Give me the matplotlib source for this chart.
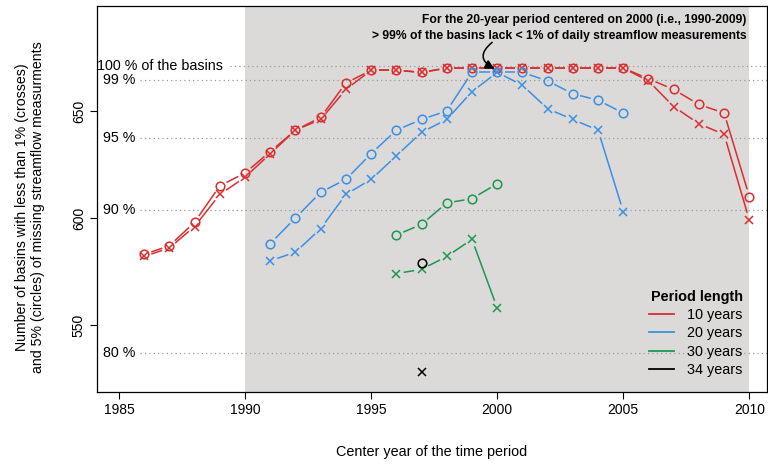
import numpy as np
import matplotlib
matplotlib.use("Agg")
import matplotlib.pyplot as plt
from matplotlib.lines import Line2D

plt.rcParams['font.family'] = ['Liberation Sans', 'DejaVu Sans']

n_basins = 671

years10 = list(range(1986, 2011))
circ10 = [583, 587, 598, 615, 621, 631, 641, 647, 663, 669, 669, 668, 670,
          670, 670, 670, 670, 670, 670, 670, 665, 660, 653, 649, 610]
cross10 = [582, 586, 596, 611, 619, 630, 641, 646, 660, 669, 669, 668, 670,
           670, 670, 670, 670, 670, 670, 670, 664, 652, 644, 639, 599]

years20 = list(range(1991, 2006))
circ20 = [588, 600, 612, 618, 630, 641, 646, 650, 668, 668, 668, 664, 658, 655, 649]
cross20 = [580, 584, 595, 611, 618, 629, 640, 646, 659, 668, 662, 651, 646, 641, 603]

years30 = list(range(1996, 2001))
circ30 = [592, 597, 607, 609, 616]
cross30 = [574, 576, 582, 590, 558]

years34 = [1997]
circ34 = [579]
cross34 = [528]

pct_levels = [100, 99, 95, 90, 80]
pct_labels = ['100 % of the basins', '99 %', '95 %', '90 %', '80 %']

red = '#D92E2E'
blue = '#3990E6'
green = '#1A9850'
shade = '#DCD9D9'

fig = plt.figure(figsize=(7.68, 4.66), dpi=100)
ax = fig.add_axes([97 / 768, 1 - 392 / 466, 670 / 768, 386 / 466])
ax.set_xlim(1984.13, 2010.7)
ax.set_ylim(518.7, 699)

ax.axvspan(1990, 2010, color=shade, zorder=0, lw=0)

# percentage guide lines with their labels
for p, lab in zip(pct_levels, pct_labels):
    yv = p / 100 * n_basins
    if p == 100:
        ax.text(1984.12, yv, lab, ha='left', va='center', fontsize=10.3)
        x0 = 1989.4
    else:
        ax.text(1985.0, yv, lab, ha='center', va='center', fontsize=10.3)
        x0 = 1985.85
    ax.plot([x0, 2010.7], [yv, yv], color='#9a9a9a', lw=0.9,
            linestyle=(0, (1, 2.5)), zorder=1)


def gapped(xs, ys, color, marker, ms):
    # R type="b": segments stop short of every point
    gap = 7.5
    pts = ax.transData.transform(np.column_stack([xs, ys]))
    inv = ax.transData.inverted()
    for p0, p1 in zip(pts[:-1], pts[1:]):
        d = p1 - p0
        L = np.hypot(d[0], d[1])
        if L <= 2 * gap:
            continue
        u = d / L
        a = inv.transform(p0 + u * gap)
        b = inv.transform(p1 - u * gap)
        ax.plot([a[0], b[0]], [a[1], b[1]], color=color, lw=1.1,
                solid_capstyle='butt', zorder=2)
    if marker == 'o':
        ax.plot(xs, ys, 'o', mfc='none', mec=color, ms=ms, mew=1.1, zorder=3)
    else:
        ax.plot(xs, ys, 'x', color=color, ms=ms, mew=1.1, zorder=3)


for yrs, c, x, col in [(years10, circ10, cross10, red),
                       (years20, circ20, cross20, blue),
                       (years30, circ30, cross30, green),
                       (years34, circ34, cross34, 'black')]:
    gapped(yrs, c, col, 'o', 6.2)
    gapped(yrs, x, col, 'x', 5.8)

ax.text(2009.9, 692.5, 'For the 20-year period centered on 2000 (i.e., 1990-2009)',
        ha='right', va='center', fontsize=8.75, fontweight='bold')
ax.text(2009.9, 685.0, '> 99% of the basins lack < 1% of daily streamflow measurements',
        ha='right', va='center', fontsize=8.75, fontweight='bold')
ax.annotate('', xy=(1999.9, 669.6), xytext=(1999.8, 682.0),
            arrowprops=dict(arrowstyle='-|>', connectionstyle='arc3,rad=0.75',
                            color='black', lw=1.1, mutation_scale=14,
                            shrinkA=0, shrinkB=0))

ax.set_xticks([1985, 1990, 1995, 2000, 2005, 2010])
ax.set_yticks([550, 600, 650])
ax.tick_params(axis='both', direction='out', length=5, width=0.8,
               labelsize=10, pad=3)
for t in ax.get_yticklabels():
    t.set_rotation(90)
    t.set_va('center')

ax.set_xlabel('Center year of the time period', fontsize=10.4)
ax.xaxis.set_label_coords(0.5, -0.155)
ax.xaxis.label.set_va('center')
ax.set_ylabel('Number of basins with less than 1% (crosses)\n'
              'and 5% (circles) of missing streamflow measurments', fontsize=10.2)
ax.yaxis.set_label_coords(-0.1, 0.479)
ax.yaxis.label.set_va('center')

for s in ax.spines.values():
    s.set_linewidth(0.9)

handles = [Line2D([], [], color=c, lw=1.3) for c in [red, blue, green, 'black']]
leg = ax.legend(handles, ['10 years', '20 years', '30 years', '34 years'],
                title='Period length', loc='lower right', frameon=False,
                fontsize=10.4, handlelength=1.75, handletextpad=0.9,
                labelspacing=0.3, bbox_to_anchor=(0.983, 0.005),
                alignment='right')
leg.get_title().set_fontweight('bold')
leg.get_title().set_fontsize(10.4)
for t in leg.get_texts():
    t.set_ha('right')

fig.savefig('out.png', dpi=100)
